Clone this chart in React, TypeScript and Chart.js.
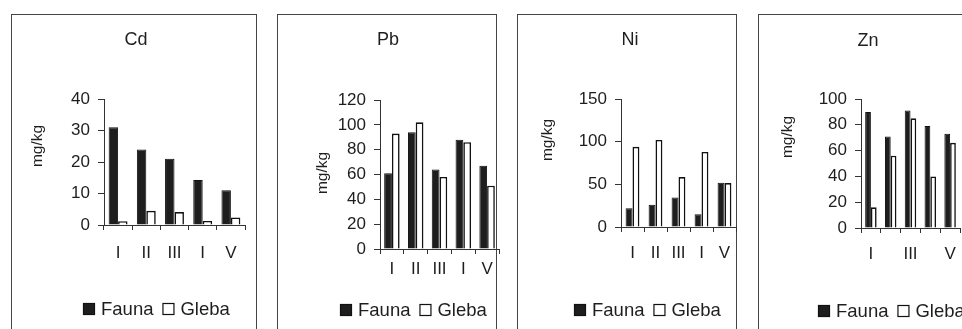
import React, { useEffect, useRef } from "react";
import { Chart, registerables } from "chart.js";

Chart.register(...registerables);

const FONT = '"Liberation Sans", Arial, Helvetica, sans-serif';

// ---- data ----
const CATEGORIES = ["I", "II", "III", "I", "V"];
const SERIES_NAMES = ["Fauna", "Gleba"];
const Y_TITLE = "mg/kg";

const CD_FAUNA = [31, 24, 21, 14.3, 11];
const CD_GLEBA = [1.2, 4.5, 4.1, 1.3, 2.4];

const PB_FAUNA = [61, 94, 64, 88, 67];
const PB_GLEBA = [93, 102, 58, 86, 51];

const NI_FAUNA = [22, 26, 34.5, 15, 52];
const NI_GLEBA = [94, 102, 58.5, 88, 51.5];

const ZN_FAUNA = [90, 71, 91, 79, 73];
const ZN_GLEBA = [16, 56, 85, 40, 66];

const CD_TICKS = { max: 40, step: 10 };
const PB_TICKS = { max: 120, step: 20 };
const NI_TICKS = { max: 150, step: 50 };
const ZN_TICKS = { max: 100, step: 20 };

// ---- layout / style (page pixel coordinates) ----
const PANELS = [
  {
    title: "Cd", fauna: CD_FAUNA, gleba: CD_GLEBA, ticks: CD_TICKS, skipOdd: false,
    box: { left: 11, top: 14, right: 257 },
    plot: { left: 104, right: 245, top: 99, bottom: 225 },
    catPct: 0.67, xPad: 13,
    titlePos: [136, 40], yTitlePos: [38, 146], legendPos: [83, 309],
  },
  {
    title: "Pb", fauna: PB_FAUNA, gleba: PB_GLEBA, ticks: PB_TICKS, skipOdd: false,
    box: { left: 277, top: 14, right: 497 },
    plot: { left: 380, right: 499, top: 100, bottom: 249 },
    catPct: 0.65, xPad: 5,
    titlePos: [388, 40], yTitlePos: [323, 173], legendPos: [340, 310],
  },
  {
    title: "Ni", fauna: NI_FAUNA, gleba: NI_GLEBA, ticks: NI_TICKS, skipOdd: false,
    box: { left: 517, top: 14, right: 737 },
    plot: { left: 621, right: 736, top: 99, bottom: 227 },
    catPct: 0.6, xPad: 11,
    titlePos: [630, 40], yTitlePos: [548, 140], legendPos: [574, 310],
  },
  {
    title: "Zn", fauna: ZN_FAUNA, gleba: ZN_GLEBA, ticks: ZN_TICKS, skipOdd: true,
    box: { left: 758, top: 14, right: 990 },
    plot: { left: 861, right: 960, top: 99, bottom: 228 },
    catPct: 0.58, xPad: 11,
    titlePos: [868, 41], yTitlePos: [788, 137], legendPos: [818, 311],
  },
];

const PAGE_H = 329;
const X_AXIS_H = 60;
const INK = "#1e1e1e";
const LINE = "#333";
const TICK_FONT = 17;
const TITLE_FONT = 18;
const LEGEND_FONT = 18.5;
const YTITLE_FONT = 15.5;

const panelTextPlugin = {
  id: "panelText",
  afterDraw(chart: any, _args: any, opts: any) {
    const ctx = chart.ctx;
    const ox = opts.originX;
    ctx.save();
    // title
    ctx.fillStyle = INK;
    ctx.font = `${TITLE_FONT}px ${FONT}`;
    ctx.textAlign = "center";
    ctx.textBaseline = "middle";
    ctx.fillText(opts.title, opts.titlePos[0] - ox, opts.titlePos[1]);
    // y title
    ctx.save();
    ctx.translate(opts.yTitlePos[0] - ox, opts.yTitlePos[1]);
    ctx.rotate(-Math.PI / 2);
    ctx.font = `${YTITLE_FONT}px ${FONT}`;
    ctx.fillText(opts.yTitle, 0, 0);
    ctx.restore();
    // legend
    let x = opts.legendPos[0] - ox;
    const y = opts.legendPos[1];
    ctx.font = `${LEGEND_FONT}px ${FONT}`;
    ctx.textAlign = "left";
    chart.data.datasets.forEach((ds: any) => {
      ctx.fillStyle = ds.backgroundColor;
      ctx.fillRect(x, y - 6, 12, 12);
      ctx.strokeStyle = "#111";
      ctx.lineWidth = 1.2;
      ctx.strokeRect(x + 0.5, y - 5.5, 11, 11);
      x += 18;
      ctx.fillStyle = INK;
      ctx.fillText(ds.label, x, y + 1);
      x += ctx.measureText(ds.label).width + 9;
    });
    ctx.restore();
  },
};

function Panel({ p }: { p: (typeof PANELS)[number] }) {
  const ref = useRef<HTMLCanvasElement>(null);
  const canvasLeft = p.box.left;
  const canvasRight = Math.max(p.box.right, p.plot.right + 10);
  const canvasW = canvasRight - canvasLeft;

  useEffect(() => {
    if (!ref.current) return;
    const chart = new Chart(ref.current, {
      type: "bar",
      data: {
        labels: CATEGORIES,
        datasets: [
          {
            label: SERIES_NAMES[0],
            data: p.fauna,
            backgroundColor: "#1e1e1e",
            borderColor: "#111",
            borderWidth: 1,
            categoryPercentage: p.catPct,
            barPercentage: 1,
          },
          {
            label: SERIES_NAMES[1],
            data: p.gleba,
            backgroundColor: "#ffffff",
            borderColor: "#111",
            borderWidth: 1.6,
            categoryPercentage: p.catPct,
            barPercentage: 1,
          },
        ],
      },
      options: {
        responsive: false,
        animation: false,
        events: [],
        layout: {
          padding: {
            left: 0,
            top: p.plot.top,
            right: canvasRight - p.plot.right,
            bottom: PAGE_H - p.plot.bottom - X_AXIS_H,
          },
        },
        plugins: {
          legend: { display: false },
          title: { display: false },
          tooltip: { enabled: false },
          panelText: {
            originX: canvasLeft,
            title: p.title,
            yTitle: Y_TITLE,
            titlePos: p.titlePos,
            yTitlePos: p.yTitlePos,
            legendPos: p.legendPos,
          },
        } as any,
        scales: {
          x: {
            afterFit: (s: any) => { s.height = X_AXIS_H; },
            grid: { drawOnChartArea: false, drawTicks: true, tickLength: 5, color: LINE, offset: true },
            border: { display: true, color: LINE, width: 1 },
            ticks: {
              color: INK,
              font: { family: FONT, size: TICK_FONT },
              padding: p.xPad,
              autoSkip: false,
              maxRotation: 0,
              minRotation: 0,
              callback: (_v: any, i: number) => (p.skipOdd && i % 2 === 1 ? "" : CATEGORIES[i]),
            },
          },
          y: {
            min: 0,
            max: p.ticks.max,
            afterFit: (s: any) => { s.width = p.plot.left - canvasLeft; },
            grid: { drawOnChartArea: false, drawTicks: true, tickLength: 6, color: LINE },
            border: { display: true, color: LINE, width: 1 },
            ticks: {
              stepSize: p.ticks.step,
              color: INK,
              font: { family: FONT, size: TICK_FONT },
              padding: 8,
            },
          },
        },
      },
      plugins: [panelTextPlugin],
    });
    return () => chart.destroy();
  }, []);

  return (
    <>
      <div
        style={{
          position: "absolute",
          left: p.box.left,
          top: p.box.top,
          width: p.box.right - p.box.left,
          height: 400,
          border: "1px solid #444",
          boxSizing: "border-box",
        }}
      />
      <canvas
        ref={ref}
        width={canvasW}
        height={PAGE_H}
        style={{ position: "absolute", left: canvasLeft, top: 0, width: canvasW, height: PAGE_H }}
      />
    </>
  );
}

export default function App() {
  return (
    <div
      style={{
        position: "absolute",
        left: 0,
        top: 0,
        width: 962,
        height: PAGE_H,
        overflow: "hidden",
        background: "#fff",
      }}
    >
      {PANELS.map((p) => (
        <Panel key={p.title} p={p} />
      ))}
    </div>
  );
}
